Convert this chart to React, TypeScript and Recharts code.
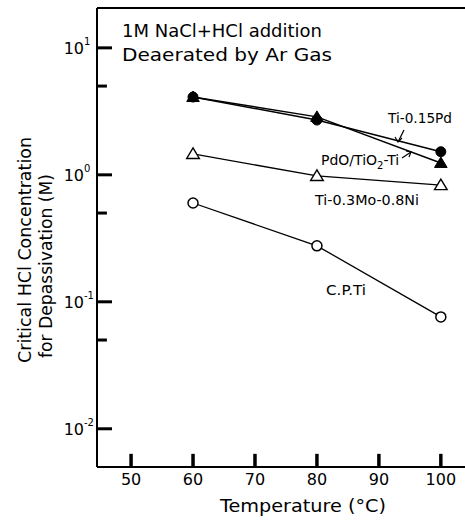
import React from "react";
import { LineChart, Line, XAxis, YAxis, ReferenceLine } from "recharts";

const temperatures = [60, 80, 100];
const tiPd = [4.1, 2.7, 1.52];
const pdoTiO2 = [4.1, 2.86, 1.24];
const tiMoNi = [1.46, 0.98, 0.83];
const cpTi = [0.6, 0.276, 0.076];

const xTicks = [50, 60, 70, 80, 90, 100];
const yMajor = [0.01, 0.1, 1, 10];
const yMinor = [0.05, 0.5, 5];
const yExp = ["-2", "-1", "0", "1"];

const data = temperatures.map((t, i) => ({
  t,
  tiPd: tiPd[i],
  pdo: pdoTiO2[i],
  moNi: tiMoNi[i],
  cp: cpTi[i],
}));

const X_MIN = 44.5;
const X_MAX = 103.9;
const Y_MIN = 0.005;
const Y_MAX = 20.6;
const X_TICK_TOP = Y_MIN * 1.27;

const FONT = "'DejaVu Sans', sans-serif";

const FilledCircle = (p: any) => (
  <circle cx={p.cx} cy={p.cy} r={5} fill="#000" stroke="#000" strokeWidth={1} />
);
const OpenCircle = (p: any) => (
  <circle cx={p.cx} cy={p.cy} r={5} fill="#fff" stroke="#000" strokeWidth={1.5} />
);
const tri = (cx: number, cy: number, s: number) =>
  `${cx},${cy - s} ${cx + s * 1.05},${cy + s * 0.75} ${cx - s * 1.05},${cy + s * 0.75}`;
const FilledTri = (p: any) => (
  <polygon points={tri(p.cx, p.cy, 6)} fill="#000" stroke="#000" strokeWidth={1} />
);
const OpenTri = (p: any) => (
  <polygon points={tri(p.cx, p.cy, 6)} fill="#fff" stroke="#000" strokeWidth={1.4} />
);

const YTick = (p: any) => {
  const v = p.payload.value;
  const idx = yMajor.findIndex((m) => Math.abs(m - v) / m < 1e-6);
  if (idx < 0) return <g />;
  return (
    <g>
      <text x={p.x - 28} y={p.y + 6} textAnchor="end" fontFamily={FONT} fontSize={16} fill="#000">
        10
      </text>
      <text x={p.x - 28} y={p.y - 3} textAnchor="start" fontFamily={FONT} fontSize={10} fill="#000">
        {yExp[idx]}
      </text>
    </g>
  );
};

const XTick = (p: any) => (
  <text x={p.x} y={p.y + 31} textAnchor="middle" fontFamily={FONT} fontSize={16} fill="#000">
    {p.payload.value}
  </text>
);

export default function App() {
  return (
    <div style={{ position: "absolute", left: 0, top: 0, width: 465, height: 520, background: "#fff" }}>
      <LineChart
        width={465}
        height={520}
        data={data}
        margin={{ top: 8, right: 0, bottom: 0, left: 0 }}
      >
        <XAxis
          dataKey="t"
          type="number"
          domain={[X_MIN, X_MAX]}
          ticks={xTicks}
          tick={<XTick />}
          tickSize={-13}
          tickMargin={0}
          axisLine={{ stroke: "#000", strokeWidth: 2 }}
          tickLine={{ stroke: "#000", strokeWidth: 3 }}
          height={53}
          interval={0}
        />
        <YAxis
          type="number"
          scale="log"
          domain={[Y_MIN, Y_MAX]}
          allowDataOverflow
          ticks={yMajor}
          tick={<YTick />}
          tickSize={-15}
          tickMargin={0}
          axisLine={{ stroke: "#000", strokeWidth: 2 }}
          tickLine={{ stroke: "#000", strokeWidth: 3 }}
          width={97}
          interval={0}
        />
        <ReferenceLine y={Y_MAX} stroke="#000" strokeWidth={2} ifOverflow="visible" />
        {yMinor.map((v) => (
          <ReferenceLine
            key={"ymin" + v}
            segment={[
              { x: X_MIN, y: v },
              { x: X_MIN + 1.6, y: v },
            ]}
            stroke="#000"
            strokeWidth={3}
            ifOverflow="visible"
          />
        ))}
        {xTicks.map((v) => (
          <ReferenceLine
            key={"x" + v}
            segment={[
              { x: v, y: Y_MIN },
              { x: v, y: X_TICK_TOP },
            ]}
            stroke="#000"
            strokeWidth={3}
            ifOverflow="visible"
          />
        ))}
        <Line dataKey="tiPd" stroke="#000" strokeWidth={1.5} dot={<FilledCircle />} isAnimationActive={false} />
        <Line dataKey="pdo" stroke="#000" strokeWidth={1.5} dot={<FilledTri />} isAnimationActive={false} />
        <Line dataKey="moNi" stroke="#000" strokeWidth={1.3} dot={<OpenTri />} isAnimationActive={false} />
        <Line dataKey="cp" stroke="#000" strokeWidth={1.3} dot={<OpenCircle />} isAnimationActive={false} />
        <g>
          <g fontFamily={FONT} fill="#000">
            <text x={122} y={37} fontSize={18} textLength={200} lengthAdjust="spacingAndGlyphs">
              1M NaCl+HCl addition
            </text>
            <text x={122} y={61} fontSize={18} textLength={210} lengthAdjust="spacingAndGlyphs">
              Deaerated by Ar Gas
            </text>
            <text x={388} y={123} fontSize={14} textLength={64} lengthAdjust="spacingAndGlyphs">
              Ti-0.15Pd
            </text>
            <text x={321} y={165} fontSize={14}>
              PdO/TiO<tspan dy={4} fontSize={10}>2</tspan>
              <tspan dy={-4}>-Ti</tspan>
            </text>
            <text x={315} y={205} fontSize={14} textLength={104} lengthAdjust="spacingAndGlyphs">
              Ti-0.3Mo-0.8Ni
            </text>
            <text x={326} y={295} fontSize={14} textLength={40} lengthAdjust="spacingAndGlyphs">
              C.P.Ti
            </text>
            <text transform="translate(31,250) rotate(-90)" textAnchor="middle" fontSize={18} textLength={226} lengthAdjust="spacingAndGlyphs">
              Critical HCl Concentration
            </text>
            <text transform="translate(52,266) rotate(-90)" textAnchor="middle" fontSize={18} textLength={184} lengthAdjust="spacingAndGlyphs">
              for Depassivation (M)
            </text>
            <text x={303} y={512} textAnchor="middle" fontSize={18} textLength={166} lengthAdjust="spacingAndGlyphs">
              Temperature (°C)
            </text>
          </g>
          <g stroke="#000" strokeWidth={1.2} fill="none">
            <line x1={404} y1={130} x2={398} y2={142} />
            <polyline points="395,137 398,142 402,138" />
            <line x1={402} y1={158} x2={411} y2={152} />
            <polyline points="406,151 411,152 409,157" />
          </g>
        </g>
      </LineChart>
    </div>
  );
}
